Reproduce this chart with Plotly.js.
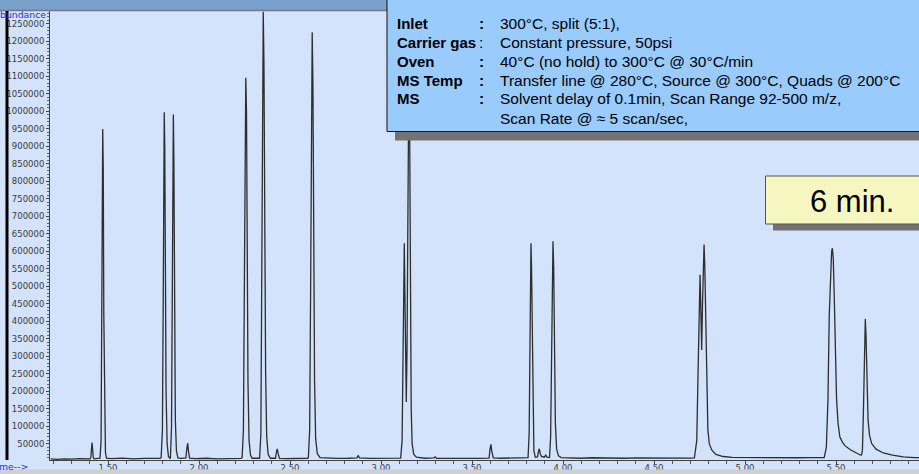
<!DOCTYPE html>
<html>
<head>
<meta charset="utf-8">
<script src="https://cdn.plot.ly/plotly-3.0.1.min.js"></script>
<style>
  html, body { margin: 0; padding: 0; background: #d3e3fb; }
  #chart { width: 919px; height: 474px; }
</style>
</head>
<body>
<div id="chart"></div>
<script>
// Total ion chromatogram: retention time (min) vs. abundance
const retentionTime = [
  1.185, 1.22, 1.26, 1.30, 1.34, 1.38, 1.402,
  1.406, 1.410, 1.412, 1.415, 1.419, 1.424,
  1.45,
  1.456, 1.462, 1.465, 1.468, 1.471, 1.474, 1.477, 1.481, 1.486, 1.492,
  1.52, 1.58, 1.64, 1.70, 1.76, 1.785,
  1.792, 1.799, 1.803, 1.806, 1.809, 1.812, 1.815, 1.819, 1.825, 1.832, 1.840,
  1.843, 1.849, 1.853, 1.856, 1.859, 1.862, 1.866, 1.870, 1.876, 1.884,
  1.90, 1.925,
  1.928, 1.934, 1.938, 1.942, 1.948,
  1.98, 2.04, 2.10, 2.16, 2.22, 2.232,
  2.237, 2.244, 2.249, 2.253, 2.257, 2.261, 2.265, 2.269, 2.275, 2.283, 2.292,
  2.310,
  2.333, 2.340, 2.345, 2.349, 2.353, 2.357, 2.361, 2.366, 2.372, 2.380, 2.392,
  2.420, 2.426, 2.430, 2.435, 2.442,
  2.48, 2.54, 2.59, 2.598,
  2.601, 2.608, 2.613, 2.618, 2.622, 2.626, 2.630, 2.635, 2.641, 2.650, 2.665,
  2.70, 2.76, 2.82, 2.86,
  2.868, 2.874, 2.882,
  2.94, 3.00, 3.06, 3.10,
  3.108, 3.116, 3.121, 3.125, 3.128, 3.132, 3.136, 3.139, 3.143, 3.147, 3.151, 3.154, 3.158, 3.162, 3.166, 3.171, 3.180, 3.195,
  3.24, 3.29, 3.297, 3.305,
  3.36, 3.42, 3.48, 3.54, 3.59,
  3.594, 3.599, 3.604, 3.609, 3.617,
  3.66, 3.72, 3.78, 3.805,
  3.808, 3.814, 3.818, 3.821, 3.824, 3.827, 3.831, 3.835, 3.840, 3.848,
  3.860, 3.866, 3.870, 3.875, 3.882,
  3.897, 3.905, 3.912, 3.920,
  3.926, 3.932, 3.936, 3.940, 3.945, 3.949, 3.953, 3.958, 3.965, 3.975, 3.99,
  4.04, 4.10, 4.16, 4.22, 4.28, 4.34, 4.40, 4.46, 4.52, 4.58, 4.64, 4.70, 4.722,
  4.735, 4.742, 4.748, 4.753, 4.758, 4.762, 4.767, 4.771, 4.775, 4.779, 4.784, 4.790, 4.796, 4.804, 4.818, 4.84, 4.88, 4.93,
  4.99, 5.05, 5.11, 5.17, 5.23, 5.29, 5.35, 5.41, 5.435,
  5.447, 5.456, 5.463, 5.470, 5.476, 5.480, 5.485, 5.490, 5.496, 5.503, 5.511, 5.521, 5.535, 5.549, 5.577, 5.605, 5.630, 5.640,
  5.645, 5.650, 5.654, 5.658, 5.661, 5.665, 5.670, 5.676, 5.684, 5.696, 5.72, 5.76, 5.81, 5.87, 5.93, 5.96
];

const abundance = [
  7000, 6000, 7500, 6500, 8000, 7000, 7500,
  12000, 40000, 54000, 38000, 12000, 7500,
  8000,
  9000, 60000, 240000, 650000, 950000, 830000, 420000, 100000, 25000, 9000,
  8000, 9500, 7500, 8500, 8000, 8500,
  10000, 90000, 420000, 800000, 998000, 900000, 580000, 200000, 50000, 15000, 9000,
  10000, 100000, 500000, 880000, 991000, 860000, 420000, 120000, 30000, 10000,
  8500, 9000,
  10000, 40000, 52000, 30000, 9000,
  8000, 9000, 7500, 8500, 8000, 8500,
  11000, 90000, 480000, 900000, 1096000, 1000000, 620000, 230000, 60000, 18000, 9000,
  8500,
  9000, 80000, 450000, 980000, 1285000, 1130000, 700000, 260000, 70000, 20000, 9000,
  9000, 28000, 36000, 22000, 8500,
  8000, 9000, 8500, 9000,
  11000, 90000, 470000, 970000, 1226000, 1080000, 640000, 230000, 65000, 22000, 11000,
  9500, 8500, 9000, 9500,
  10000, 17000, 10000,
  8500, 9000, 8000, 9000,
  9500, 60000, 250000, 420000, 623000, 450000, 230000, 170000, 320000, 760000, 1080000, 1180000, 900000, 450000, 150000, 50000, 20000, 12000,
  9000, 10000, 13000, 9000,
  8500, 9500, 9000, 8500, 9500,
  10000, 35000, 49000, 28000, 10000,
  9000, 10000, 9000, 9500,
  11000, 80000, 320000, 540000, 623000, 560000, 330000, 120000, 30000, 12000,
  13000, 30000, 36000, 22000, 14000,
  12000, 18000, 12000, 11000,
  11000, 70000, 300000, 560000, 629000, 550000, 320000, 110000, 35000, 16000, 11000,
  10000, 9000, 10500, 9500, 10000, 9000, 10000, 9500, 10000, 9500, 10000, 9500, 10000,
  60000, 250000, 460000, 533000, 420000, 318000, 460000, 580000, 620000, 560000, 390000, 200000, 90000, 50000, 32000, 20000, 14000, 11500,
  11000, 10500, 11500, 10000, 11000, 10500, 11000, 10500, 11000,
  40000, 180000, 420000, 560000, 600000, 609000, 580000, 480000, 320000, 180000, 110000, 70000, 55000, 45000, 34000, 25000, 19000, 18000,
  30000, 130000, 280000, 380000, 407000, 360000, 220000, 120000, 75000, 51000, 35000, 24000, 18000, 13000, 11000, 10500
];

// Axis ticks
const timeTickVals = [1.5, 2.0, 2.5, 3.0, 3.5, 4.0, 4.5, 5.0, 5.5];
const timeTickText = ['1.50', '2.00', '2.50', '3.00', '3.50', '4.00', '4.50', '5.00', '5.50'];
const abundanceTickStart = 50000;
const abundanceTickStep = 50000;

// Method conditions panel
const methodLabels = ['Inlet', 'Carrier gas', 'Oven', 'MS Temp', 'MS', ''];
const methodColons = ['<b>:</b>', ':', '<b>:</b>', '<b>:</b>', '<b>:</b>', ''];
const methodValues = [
  '300°C, split (5:1),',
  'Constant pressure, 50psi',
  '40°C (no hold) to 300°C @ 30°C/min',
  'Transfer line @ 280°C, Source @ 300°C, Quads @ 200°C',
  'Solvent delay of 0.1min, Scan Range 92-500 m/z,',
  'Scan Rate @ ≈ 5 scan/sec,'
];
const runTimeLabel = '6 min.';

// pixel -> paper helpers (plot area spans x 50..919, y 11..460)
const L = 50, R = 919, T = 11, B = 460;
const px = x => (x - L) / (R - L);
const py = y => (B - y) / (B - T);

const textFont = 'Liberation Sans, Arial, sans-serif';
const smallFont = 'DejaVu Sans, Verdana, sans-serif';
const tickFont = { family: smallFont, size: 8.5, color: '#3a3a3a' };
const labelFont = { family: textFont, size: 15, color: '#000' };
const panelFont = { family: textFont, size: 15.5, color: '#000' };

const rowY = [23.3, 42.7, 61.2, 80.0, 99.0, 118.3];

const annotations = [];
function addText(x, y, text, font, xanchor) {
  annotations.push({
    xref: 'paper', yref: 'paper', x: px(x), y: py(y),
    xanchor: xanchor || 'left', yanchor: 'middle', showarrow: false,
    text: text, font: font
  });
}
methodLabels.forEach((lab, i) => {
  if (lab) addText(395, rowY[i], '<b>' + lab + '</b>', labelFont);
  if (methodColons[i]) addText(477, rowY[i], methodColons[i], panelFont);
  addText(497.5, rowY[i], methodValues[i], panelFont);
});
addText(852, 201.5, runTimeLabel, { family: textFont, size: 31, color: '#000' }, 'center');
// axis captions of the instrument window (left part is hidden behind the frame)
addText(47.5, 15, 'bundance', { family: smallFont, size: 9.3, color: '#2a2ae8' }, 'right');
addText(30, 466, 'me-->', { family: smallFont, size: 9.3, color: '#2a2ae8' }, 'right');

const shapes = [
  // window frame: top band, left bar, bottom strip
  { type: 'rect', xref: 'paper', yref: 'paper', x0: px(-5), x1: px(930), y0: py(-5), y1: py(10),
    fillcolor: '#79a1cb', line: { width: 0 }, layer: 'above' },
  { type: 'line', xref: 'paper', yref: 'paper', x0: px(-5), x1: px(930), y0: py(10.5), y1: py(10.5),
    line: { color: '#6f7b88', width: 1.5 }, layer: 'above' },
  { type: 'rect', xref: 'paper', yref: 'paper', x0: px(5.5), x1: px(8.5), y0: py(11), y1: py(460),
    fillcolor: '#000', line: { width: 0 }, layer: 'above' },
  { type: 'rect', xref: 'paper', yref: 'paper', x0: px(-5), x1: px(930), y0: py(469.5), y1: py(480),
    fillcolor: '#cfd0d2', line: { width: 0 }, layer: 'above' },
  // method panel shadow + panel
  { type: 'rect', xref: 'paper', yref: 'paper', x0: px(395), x1: px(930), y0: py(131), y1: py(140.5),
    fillcolor: '#737373', line: { width: 0 }, layer: 'above' },
  { type: 'rect', xref: 'paper', yref: 'paper', x0: px(387), x1: px(930), y0: py(-5), y1: py(131.5),
    fillcolor: '#99cbfd', line: { color: '#111', width: 1 }, layer: 'above' },
  // run-time tag shadow + tag
  { type: 'rect', xref: 'paper', yref: 'paper', x0: px(773), x1: px(930), y0: py(223.5), y1: py(230.5),
    fillcolor: '#737373', line: { width: 0 }, layer: 'above' },
  { type: 'rect', xref: 'paper', yref: 'paper', x0: px(765.5), x1: px(930), y0: py(176), y1: py(224),
    fillcolor: '#f6f6c1', line: { color: '#555', width: 1 }, layer: 'above' }
];

const trace = {
  x: retentionTime, y: abundance, type: 'scatter', mode: 'lines',
  line: { color: '#2e2e2e', width: 1.3 }, hoverinfo: 'x+y'
};

const layout = {
  width: 919, height: 474,
  margin: { l: L, r: 0, t: T, b: 474 - B, pad: 0 },
  paper_bgcolor: '#d3e3fb', plot_bgcolor: '#d3e3fb',
  showlegend: false,
  xaxis: {
    range: [1.5 - 58 / 182, 1.5 + 811 / 182],
    tickmode: 'array', tickvals: timeTickVals, ticktext: timeTickText,
    ticks: 'outside', ticklen: 3, tickcolor: '#444', tickwidth: 1,
    minor: { dtick: 0.1, tick0: 1.5, ticks: 'outside', ticklen: 3, tickcolor: '#555', showgrid: false },
    showline: true, linecolor: '#444', linewidth: 1,
    showgrid: false, zeroline: false, tickfont: tickFont,
    ticklabelstandoff: -3
  },
  yaxis: {
    range: [4000, 1287000],
    tickmode: 'linear', tick0: abundanceTickStart, dtick: abundanceTickStep, tickformat: 'd',
    ticks: 'outside', ticklen: 3, tickcolor: '#444', tickwidth: 1,
    minor: { dtick: 10000, ticks: 'outside', ticklen: 2, tickcolor: '#666', showgrid: false },
    showline: true, linecolor: '#444', linewidth: 1,
    showgrid: false, zeroline: false, tickfont: tickFont
  },
  shapes: shapes,
  annotations: annotations
};

Plotly.newPlot('chart', [trace], layout, { displayModeBar: false, staticPlot: true });
</script>
</body>
</html>
